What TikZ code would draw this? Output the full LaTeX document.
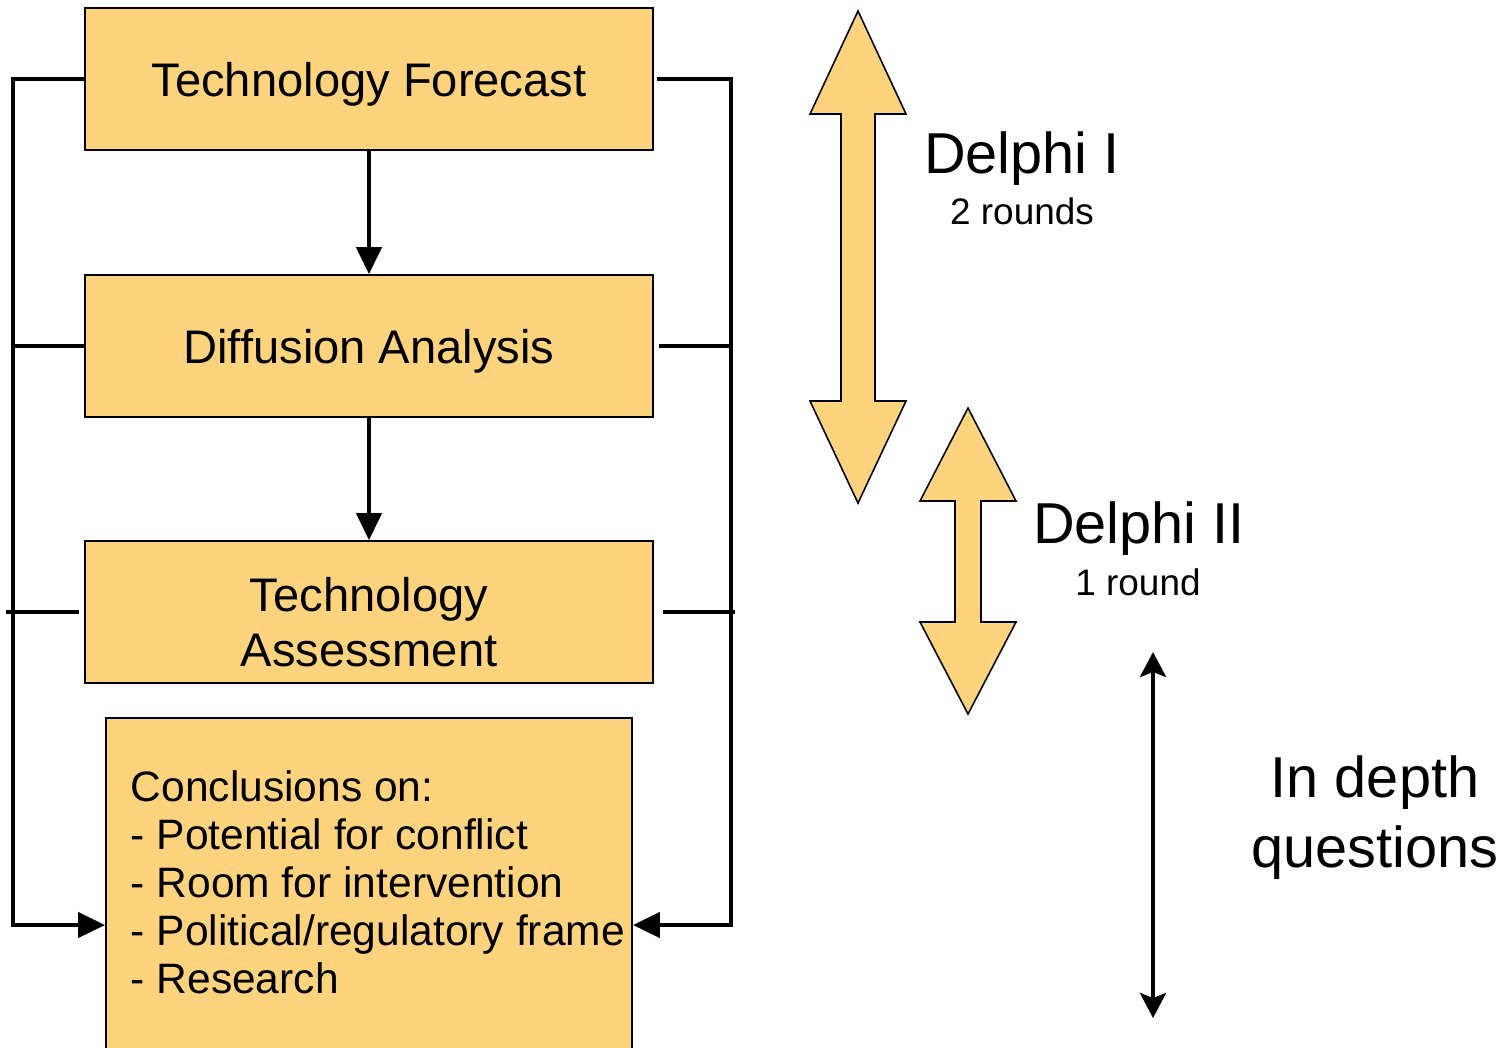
\documentclass[tikz,border=0pt]{standalone}
\usepackage{fontspec}
\setmainfont{Liberation Sans}
\usetikzlibrary{arrows.meta}
\definecolor{boxfill}{RGB}{254,211,125}
\tikzset{
  stagebox/.style={draw=black, line width=0.45pt, fill=boxfill, inner sep=0pt,
    minimum width=5.68cm, minimum height=1.42cm},
  stagetext/.style={inner sep=0pt, align=center, font=\fontsize{13.4}{15.65}\selectfont},
  conn/.style={draw=black, line width=1.25pt},
  flow/.style={conn, -{Triangle[length=0.27cm, width=0.25cm]}},
  fatarrow/.style={draw=black, line width=0.45pt, fill=boxfill, line join=miter},
  biglabel/.style={anchor=base, inner sep=0pt, font=\fontsize{16.4}{19.6}\selectfont},
  smalllabel/.style={anchor=base, inner sep=0pt, font=\fontsize{10.5}{12.6}\selectfont},
}
\begin{document}
\begin{tikzpicture}[x=0.01cm, y=-0.01cm]
\clip (0,0) rectangle (1503,1047);

% process stages
\node[stagebox] (tf) at (369,79) {};
\node[stagetext] (tftext) at ([yshift=-0.05cm]tf.center) {Technology Forecast};
\node[stagebox] (da) at (369,346) {};
\node[stagetext] (datext) at ([yshift=-0.05cm]da.center) {Diffusion Analysis};
\node[stagebox] (ta) at (369,612) {};
\node[stagetext] (tatext) at ([yshift=-0.1cm]ta.center) {Technology\\Assessment};
\node[stagebox, minimum width=5.26cm, minimum height=3.52cm] (concl) at (369,894) {};
\node[anchor=west, inner sep=0pt, align=left, font=\fontsize{12.1}{13.66}\selectfont]
  (concltext) at (130,882)
  {Conclusions on:\\- Potential for conflict\\- Room for intervention\\- Political/regulatory frame\\- Research};

% feedback buses on both sides
\coordinate (lb) at (13,925);
\coordinate (rb) at (731,925);
\draw[flow] (tf.south) -- (da.north);
\draw[flow] (da.south) -- (ta.north);
\draw[conn, line cap=rect] (tf.west) -| (lb);
\draw[flow] (lb) -- (lb -| concl.west);
\draw[conn] (da.west) -- (da.west -| lb);
\draw[conn] ([xshift=-0.05cm]ta.west) -- ([xshift=-0.07cm]ta.west -| lb);
\draw[conn, line cap=rect] ([xshift=0.05cm]tf.east) -| (rb);
\draw[flow] (rb) -- (rb -| concl.east);
\draw[conn] ([xshift=0.05cm]da.east) -- (da.east -| rb);
\draw[conn] ([xshift=0.09cm]ta.east) -- ([xshift=0.04cm]ta.east -| rb);

% Delphi rounds
\draw[fatarrow] (858,11) -- (906,114) -- (875,114) -- (875,401) -- (906,401)
  -- (858,503) -- (810,401) -- (841,401) -- (841,114) -- (810,114) -- cycle;
\draw[fatarrow] (968,408) -- (1016,501) -- (981,501) -- (981,622) -- (1016,622)
  -- (968,714) -- (920,622) -- (955,622) -- (955,501) -- (920,501) -- cycle;
\node[biglabel] (d1) at (1022,173) {Delphi I};
\node[smalllabel] (d1r) at (1022,224) {2 rounds};
\node[biglabel] (d2) at (1139,543) {Delphi II};
\node[smalllabel] (d2r) at (1138,595) {1 round};

% in-depth questions span
\coordinate (qtop) at (1153,652);
\coordinate (qbot) at (1153,1018);
\draw[line width=1.1pt, {Stealth[length=0.25cm, width=0.26cm, inset=0.05cm]}-{Stealth[length=0.25cm, width=0.26cm, inset=0.05cm]}] (qtop) -- (qbot);
\node[biglabel] (q1) at (1375,797) {In depth};
\node[biglabel] (q2) at (1375,867) {questions};
\end{tikzpicture}
\end{document}
